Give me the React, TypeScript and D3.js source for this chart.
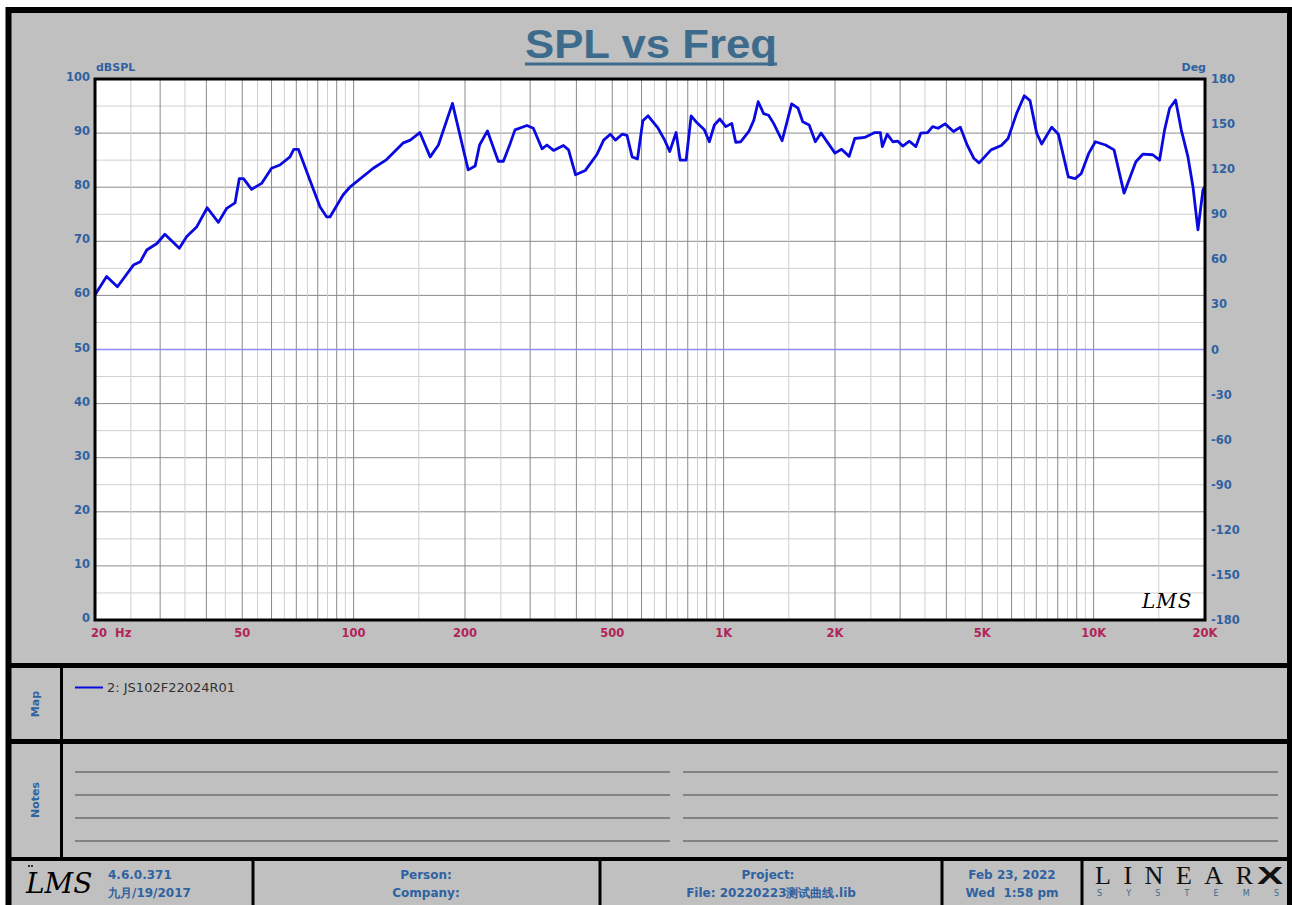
import * as d3 from 'd3';

// SPL response (Hz, dBSPL)
const freqs = [
  20, 21.5, 23, 25.4, 26.5, 27.6, 29.4, 30.9, 33.8, 35.4, 37.7, 40.2, 43.1, 45.4, 47.8, 49.1, 50.4, 53, 56.4,
  60, 63.2, 67.3, 68.9, 70.9, 76.2, 81.1, 84.6, 86.3, 93.7, 97.7, 113, 122.8, 136.3, 142.2, 151, 161, 169.5,
  185, 204, 213, 219, 230, 246, 254, 265, 273, 294, 306, 323, 333, 347, 369, 381, 398, 423, 455, 474, 494,
  510, 532, 548, 566, 585, 605, 625, 665, 693, 715, 744, 763, 792, 817, 842, 887, 915, 944, 977, 1014, 1052,
  1078, 1112, 1170, 1207, 1240, 1283, 1323, 1365, 1439, 1480, 1527, 1589, 1636, 1703, 1770, 1834, 2000, 2083,
  2184, 2262, 2406, 2560, 2652, 2685, 2768, 2866, 2958, 3049, 3178, 3308, 3412, 3558, 3670, 3800, 3968, 4180,
  4364, 4552, 4750, 4904, 5282, 5630, 5872, 6190, 6496, 6732, 7016, 7238, 7704, 8030, 8544, 8914, 9254, 9692,
  10110, 10770, 11356, 12086, 13006, 13578, 14448, 15074, 15554, 16048, 16656, 17254, 17988, 18556, 19142,
  19748, 20000,
];
const spl = [
  60.1, 63.5, 61.6, 65.6, 66.2, 68.4, 69.6, 71.3, 68.7, 70.9, 72.7, 76.2, 73.5, 76.1, 77.1, 81.6, 81.6, 79.6, 80.7,
  83.5, 84.1, 85.6, 87.0, 87.0, 81.3, 76.4, 74.5, 74.5, 78.6, 80.0, 83.5, 85.1, 88.2, 88.7, 90.1, 85.6, 87.8,
  95.5, 83.2, 83.9, 87.8, 90.4, 84.8, 84.8, 88.1, 90.6, 91.4, 90.9, 87.1, 87.8, 86.8, 87.7, 86.9, 82.3, 83.1, 86.1, 88.7, 89.8,
  88.7, 89.8, 89.6, 85.6, 85.2, 92.3, 93.2, 90.9, 88.7, 86.6, 90.1, 85.0, 85.0, 93.2, 92.1, 90.6, 88.4, 91.5, 92.6, 91.2, 91.8,
  88.3, 88.4, 90.3, 92.4, 95.8, 93.6, 93.3, 91.8, 88.6, 91.8, 95.4, 94.6, 92.1, 91.5, 88.4, 90.0, 86.3, 87.0,
  85.7, 89.0, 89.2, 90.1, 90.1, 87.5, 89.8, 88.4, 88.5, 87.6, 88.5, 87.5, 90.0, 90.1, 91.2, 90.9, 91.7, 90.3,
  91.1, 87.8, 85.3, 84.5, 86.9, 87.7, 89.0, 93.6, 96.9, 96.0, 90.0, 88.0, 91.1, 89.8, 81.9, 81.6, 82.5, 86.2,
  88.4, 87.8, 86.9, 78.9, 84.7, 86.1, 86.0, 85.0, 90.6, 94.6, 96.1, 90.6, 85.6, 80.1, 72.1,
  79.5, 80.1,
];

const splTicks = [0, 10, 20, 30, 40, 50, 60, 70, 80, 90, 100];
const degTicks = [-180, -150, -120, -90, -60, -30, 0, 30, 60, 90, 120, 150, 180];
const freqTickValues = [20, 50, 100, 200, 500, 1000, 2000, 5000, 10000, 20000];
const freqTickText = ['20  Hz', '50', '100', '200', '500', '1K', '2K', '5K', '10K', '20K'];
const gridMultipliers = [1, 1.5, 2, 2.5, 3, 3.5, 4, 4.5, 5, 5.5, 6, 6.5, 7, 7.5, 8, 8.5, 9, 9.5];
const decades = [10, 100, 1000, 10000];

const W = 1292;
const H = 905;
const BLUE = '#2f62a0';
const RED = '#b02458';
const GRAY = '#c0c0c0';
const SANS = 'DejaVu Sans, sans-serif';

const x = d3.scaleLog().domain([20, 20000]).range([95, 1205]);
const y = d3.scaleLinear().domain([0, 100]).range([620, 79]);
const yDeg = d3.scaleLinear().domain([-180, 180]).range([620, 79]);

const gridFreqs = decades
  .flatMap(d => gridMultipliers.map(m => ({ f: d * m, major: Number.isInteger(m) })))
  .filter(g => g.f > 20 && g.f < 20000);
const gridLevels = d3.range(5, 100, 5);

const line = d3.line<number>()
  .x((_, i) => x(freqs[i]))
  .y(d => y(d));

export default function App() {
  const notesRows = [772, 795, 818, 841];
  const footerDividers = [253, 600, 942, 1082];

  return (
    <svg width={W} height={H} style={{ position: 'absolute', left: 0, top: 0, background: '#fff' }}>
      {/* outer frame */}
      <rect x={8.5} y={10} width={1281.5} height={900} fill={GRAY} stroke="#000" strokeWidth={6} />

      {/* title */}
      <text x={651} y={58} textAnchor="middle" fontFamily="Liberation Sans, Arial, sans-serif" fontWeight="bold"
        fontSize={40} fill="#3d6b8c" textLength={252} lengthAdjust="spacingAndGlyphs">SPL vs Freq</text>
      <line x1={525} x2={777} y1={64} y2={64} stroke="#3d6b8c" strokeWidth={3} />

      {/* plot area */}
      <rect x={95} y={79} width={1110} height={541} fill="#fff" />
      {gridLevels.map(v => (
        <line key={'h' + v} x1={95} x2={1205} y1={y(v)} y2={y(v)}
          stroke={v % 10 === 0 ? '#8a8a8a' : '#cfcfcf'} strokeWidth={1} />
      ))}
      {gridFreqs.map(g => (
        <line key={'v' + g.f} x1={x(g.f)} x2={x(g.f)} y1={79} y2={620}
          stroke={g.major ? '#8a8a8a' : '#cfcfcf'} strokeWidth={1} />
      ))}
      <line x1={95} x2={1205} y1={yDeg(0)} y2={yDeg(0)} stroke="#8c8cff" strokeWidth={1.5} />
      <path d={line(spl) ?? ''} fill="none" stroke="#0a0ae0" strokeWidth={2.8} strokeLinejoin="round" />
      <rect x={95} y={79} width={1110} height={541} fill="none" stroke="#000" strokeWidth={3} />

      {/* left axis */}
      {splTicks.map(v => (
        <text key={'l' + v} x={90} y={y(v) + 2} textAnchor="end" fontFamily={SANS} fontWeight="bold"
          fontSize={11.5} fill={BLUE}>{v}</text>
      ))}
      <text x={96} y={71} fontFamily={SANS} fontWeight="bold" fontSize={11} fill={BLUE}>dBSPL</text>

      {/* right axis */}
      {degTicks.map(v => (
        <text key={'r' + v} x={1211} y={yDeg(v) + 4} fontFamily={SANS} fontWeight="bold"
          fontSize={11.5} fill={BLUE}>{v}</text>
      ))}
      <text x={1206} y={71} textAnchor="end" fontFamily={SANS} fontWeight="bold" fontSize={11} fill={BLUE}>Deg</text>

      {/* frequency labels */}
      {freqTickValues.map((f, i) => (
        <text key={'f' + f} x={i === 0 ? 91 : x(f)} y={637} textAnchor={i === 0 ? 'start' : 'middle'}
          fontFamily={SANS} fontWeight="bold" fontSize={11.5} fill={RED} style={{ whiteSpace: 'pre' }}>
          {freqTickText[i]}
        </text>
      ))}

      {/* LMS mark inside plot */}
      <text x={1142} y={608} fontFamily="DejaVu Serif, serif" fontStyle="italic" fontSize={20} fill="#000"
        letterSpacing={1}>LMS</text>

      {/* panel separators */}
      <line x1={8} x2={1290} y1={665.5} y2={665.5} stroke="#000" strokeWidth={5} />
      <line x1={8} x2={1290} y1={741.5} y2={741.5} stroke="#000" strokeWidth={5} />
      <line x1={8} x2={1290} y1={859} y2={859} stroke="#000" strokeWidth={4} />
      <line x1={61.5} x2={61.5} y1={665} y2={859} stroke="#000" strokeWidth={3} />

      {/* map panel */}
      <text transform="translate(39,704) rotate(-90)" textAnchor="middle" fontFamily={SANS} fontWeight="bold"
        fontSize={11} fill={BLUE}>Map</text>
      <line x1={75} x2={103} y1={687.5} y2={687.5} stroke="#0a0ae0" strokeWidth={2} />
      <text x={107} y={692} fontFamily={SANS} fontSize={13} fill="#333">2: JS102F22024R01</text>

      {/* notes panel */}
      <text transform="translate(39,800) rotate(-90)" textAnchor="middle" fontFamily={SANS} fontWeight="bold"
        fontSize={11} fill={BLUE}>Notes</text>
      {notesRows.map(r => (
        <g key={'n' + r}>
          <line x1={75} x2={670} y1={r} y2={r} stroke="#444" strokeWidth={1} />
          <line x1={683} x2={1278} y1={r} y2={r} stroke="#444" strokeWidth={1} />
        </g>
      ))}

      {/* footer */}
      {footerDividers.map(fx => (
        <line key={'d' + fx} x1={fx} x2={fx} y1={859} y2={910} stroke="#000" strokeWidth={3} />
      ))}
      <text x={26} y={893} fontFamily="DejaVu Serif, serif" fontStyle="italic" fontSize={28} fill="#000">LMS</text>
      <circle cx={29} cy={866} r={1} fill="#000" />
      <circle cx={32} cy={866} r={1} fill="#000" />
      <text x={108} y={879} fontFamily={SANS} fontWeight="bold" fontSize={12} fill={BLUE}>4.6.0.371</text>
      <text x={108} y={897} fontFamily={SANS} fontWeight="bold" fontSize={12} fill={BLUE}>九月/19/2017</text>
      <text x={426} y={879} textAnchor="middle" fontFamily={SANS} fontWeight="bold" fontSize={12} fill={BLUE}>Person:</text>
      <text x={426} y={897} textAnchor="middle" fontFamily={SANS} fontWeight="bold" fontSize={12} fill={BLUE}>Company:</text>
      <text x={768} y={879} textAnchor="middle" fontFamily={SANS} fontWeight="bold" fontSize={12} fill={BLUE}>Project:</text>
      <text x={771} y={897} textAnchor="middle" fontFamily={SANS} fontWeight="bold" fontSize={12} fill={BLUE}>File: 20220223测试曲线.lib</text>
      <text x={1012} y={879} textAnchor="middle" fontFamily={SANS} fontWeight="bold" fontSize={12} fill={BLUE}>Feb 23, 2022</text>
      <text x={1012} y={897} textAnchor="middle" fontFamily={SANS} fontWeight="bold" fontSize={12} fill={BLUE}
        style={{ whiteSpace: 'pre' }}>Wed  1:58 pm</text>

      {/* LinearX logo */}
      <text x={1095} y={884} fontFamily="Liberation Serif, serif" fontSize={26} fill="#111"
        textLength={158} lengthAdjust="spacing">LINEAR</text>
      <text x={1257} y={884} fontFamily="Liberation Sans, sans-serif" fontWeight="900" fontSize={24} fill="#111"
        textLength={26} lengthAdjust="spacingAndGlyphs">X</text>
      <text x={1097} y={896} fontFamily={SANS} fontSize={8} fill="#3c6a8a"
        textLength={182} lengthAdjust="spacing">SYSTEMS</text>
    </svg>
  );
}
